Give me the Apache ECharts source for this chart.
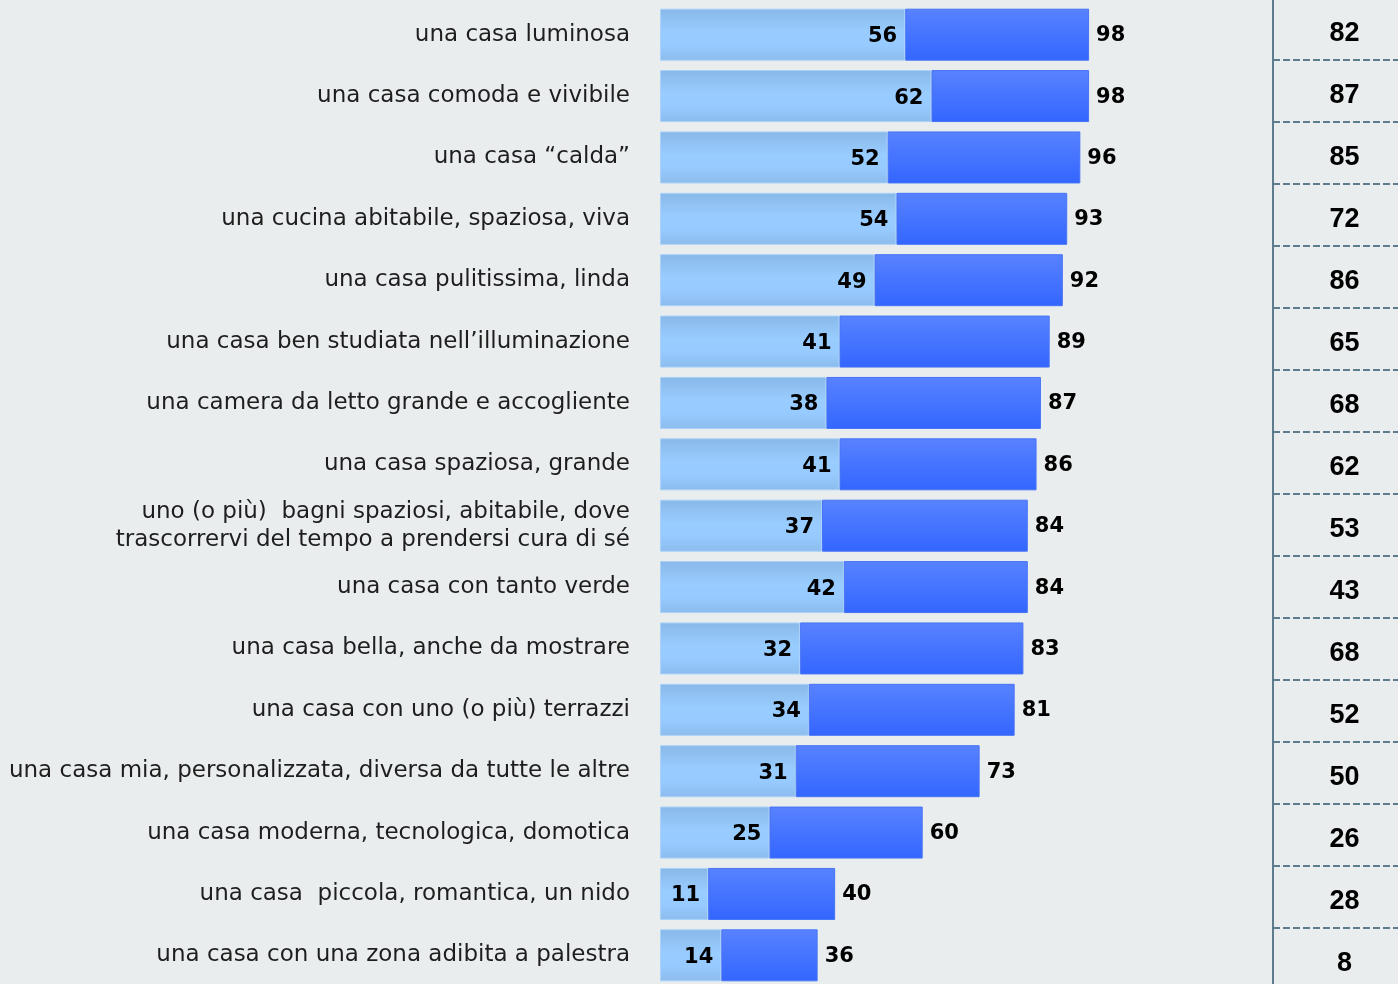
<!DOCTYPE html>
<html>
<head>
<meta charset="utf-8">
<script src="https://cdn.jsdelivr.net/npm/echarts@6/dist/echarts.min.js"></script>
<style>
html,body{margin:0;padding:0;background:#e9edee;}
#c{width:1398px;height:984px;}
</style>
</head>
<body>
<div id="c"></div>
<script>
const categories = [
  "una casa luminosa",
  "una casa comoda e vivibile",
  "una casa \u201ccalda\u201d",
  "una cucina abitabile, spaziosa, viva",
  "una casa pulitissima, linda",
  "una casa ben studiata nell\u2019illuminazione",
  "una camera da letto grande e accogliente",
  "una casa spaziosa, grande",
  "uno (o pi\u00f9)  bagni spaziosi, abitabile, dove\ntrascorrervi del tempo a prendersi cura di s\u00e9",
  "una casa con tanto verde",
  "una casa bella, anche da mostrare",
  "una casa con uno (o pi\u00f9) terrazzi",
  "una casa mia, personalizzata, diversa da tutte le altre",
  "una casa moderna, tecnologica, domotica",
  "una casa  piccola, romantica, un nido",
  "una casa con una zona adibita a palestra"
];
const firstValues = [56, 62, 52, 54, 49, 41, 38, 41, 37, 42, 32, 34, 31, 25, 11, 14];
const totalValues = [98, 98, 96, 93, 92, 89, 87, 86, 84, 84, 83, 81, 73, 60, 40, 36];
const rightValues = [82, 87, 85, 72, 86, 65, 68, 62, 53, 43, 68, 52, 50, 26, 28, 8];

const restValues = totalValues.map((t, i) => t - firstValues[i]);

const chart = echarts.init(document.getElementById('c'), null, {renderer: 'canvas'});

const lightGrad = new echarts.graphic.LinearGradient(0, 0, 0, 1, [
  {offset: 0, color: '#88b8e8'},
  {offset: 0.45, color: '#99ccff'},
  {offset: 0.7, color: '#97caff'},
  {offset: 1, color: '#8cbcec'}
]);
const blueGrad = new echarts.graphic.LinearGradient(0, 0, 0, 1, [
  {offset: 0, color: '#5882ff'},
  {offset: 1, color: '#3366ff'}
]);

chart.setOption({
  backgroundColor: '#e9edee',
  animation: false,
  grid: [
    {left: 660, right: 125, top: 4, height: 982, outerBoundsMode: 'none', containLabel: false},
    {left: 1273, right: 0, top: -2, height: 992, outerBoundsMode: 'none', containLabel: false}
  ],
  xAxis: [
    {gridIndex: 0, type: 'value', min: 0, max: 140, show: false},
    {gridIndex: 1, type: 'value', min: 0, max: 1, show: false}
  ],
  yAxis: [
    {
      gridIndex: 0, type: 'category', inverse: true, data: categories,
      axisLine: {show: false}, axisTick: {show: false}, splitLine: {show: false},
      axisLabel: {
        margin: 30, fontFamily: 'DejaVu Sans', fontSize: 23, color: '#1e1e1e',
        lineHeight: 28, align: 'right'
      }
    },
    {
      gridIndex: 1, type: 'category', inverse: true, data: categories,
      axisLabel: {show: false}, axisTick: {show: false},
      axisLine: {show: true, lineStyle: {color: '#5d7d8e', width: 2}},
      splitLine: {show: true, lineStyle: {color: '#5d7d8e', width: 2, type: [7, 3]}}
    }
  ],
  series: [
    {
      type: 'bar', xAxisIndex: 0, yAxisIndex: 0, stack: 'a', barWidth: 52,
      data: firstValues,
      itemStyle: {color: lightGrad, borderColor: '#a9d2fa', borderWidth: 1},
      label: {
        show: true, position: 'insideRight', distance: 8,
        fontFamily: 'DejaVu Sans', fontWeight: 'bold', fontSize: 21, color: '#000',
        offset: [0, 2]
      }
    },
    {
      type: 'bar', xAxisIndex: 0, yAxisIndex: 0, stack: 'a', barWidth: 52,
      data: restValues,
      itemStyle: {color: blueGrad, borderColor: '#4774f6', borderWidth: 1},
      label: {
        show: true, position: 'right', distance: 7,
        fontFamily: 'DejaVu Sans', fontWeight: 'bold', fontSize: 21, color: '#000',
        offset: [0, 1],
        formatter: p => totalValues[p.dataIndex]
      }
    },
    {
      type: 'scatter', xAxisIndex: 1, yAxisIndex: 1, symbolSize: 1,
      itemStyle: {color: 'rgba(0,0,0,0)', opacity: 1},
      emphasis: {disabled: true},
      data: rightValues.map((v, i) => [0.5, i]),
      label: {
        show: true, position: 'inside',
        fontFamily: 'Liberation Sans', fontWeight: 'bold', fontSize: 27, color: '#000',
        offset: [9, 5],
        formatter: p => rightValues[p.dataIndex]
      }
    }
  ]
});
</script>
</body>
</html>
